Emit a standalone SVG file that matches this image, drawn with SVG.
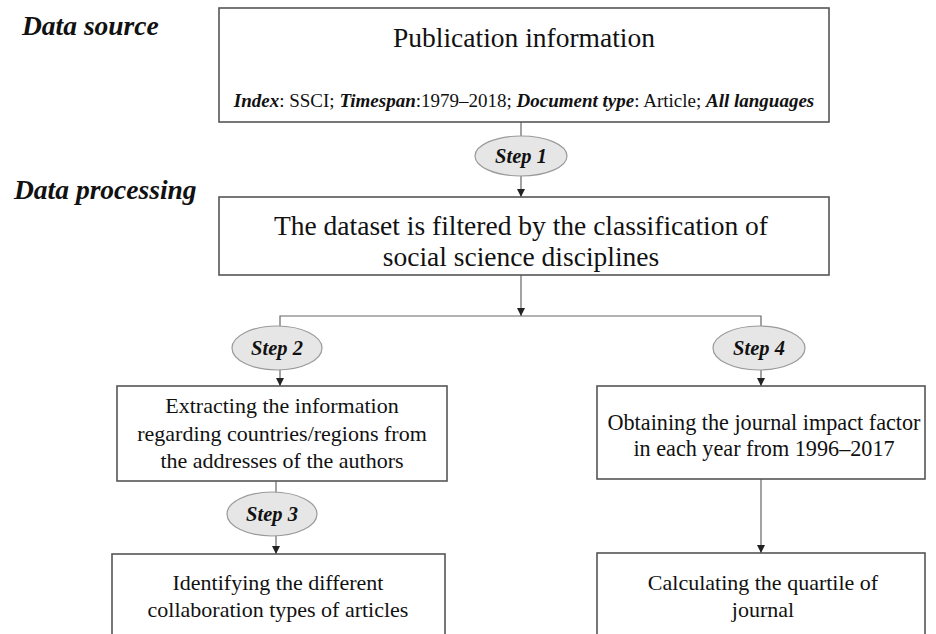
<svg xmlns="http://www.w3.org/2000/svg" width="936" height="634" viewBox="0 0 936 634">
<style>
.box{fill:#fff;stroke:#555;stroke-width:1.6}
.step{fill:#e6e6e6;stroke:#9a9a9a;stroke-width:1.2}
.t{font-family:"Liberation Serif","Times New Roman",serif;fill:#111;text-anchor:middle}
.bi{font-weight:bold;font-style:italic}
.st{font-family:"Liberation Serif","Times New Roman",serif;font-weight:bold;font-style:italic;font-size:20.5px;fill:#111;text-anchor:middle}
.hd{font-family:"Liberation Serif","Times New Roman",serif;font-weight:bold;font-style:italic;font-size:27.5px;fill:#111}
.c{fill:none;stroke:#666;stroke-width:1.2}
</style>
<defs>
<marker id="ah" markerWidth="8" markerHeight="8" refX="8" refY="4" orient="auto" markerUnits="userSpaceOnUse">
<path d="M0,0 L8,4 L0,8 z" fill="#222"/>
</marker>
</defs>
<rect width="936" height="634" fill="#fff"/>
<text class="hd" x="22" y="35">Data source</text>
<text class="hd" x="14" y="199">Data processing</text>
<g id="connectors">
<line class="c" x1="521" y1="122" x2="521" y2="136"/>
<line class="c" x1="521" y1="176" x2="521" y2="197" marker-end="url(#ah)"/>
<line class="c" x1="521" y1="275" x2="521" y2="316" marker-end="url(#ah)"/>
<polyline class="c" points="280,326 280,316 761,316 761,326"/>
<line class="c" x1="280" y1="370" x2="280" y2="386" marker-end="url(#ah)"/>
<line class="c" x1="761" y1="370" x2="761" y2="386" marker-end="url(#ah)"/>
<line class="c" x1="276" y1="481" x2="276" y2="493"/>
<line class="c" x1="276" y1="536" x2="276" y2="554" marker-end="url(#ah)"/>
<line class="c" x1="761" y1="479" x2="761" y2="553" marker-end="url(#ah)"/>
</g>
<g id="n-pub">
<rect class="box" x="219" y="8" width="610" height="114"/>
<text class="t" x="524" y="47" font-size="27.5">Publication information</text>
<text class="t" x="524" y="107" font-size="19"><tspan class="bi">Index</tspan>: SSCI; <tspan class="bi">Timespan</tspan>:1979–2018; <tspan class="bi">Document type</tspan>: Article; <tspan class="bi">All languages</tspan></text>
</g>
<g id="n-step1">
<ellipse class="step" cx="521" cy="156" rx="46" ry="20"/>
<text class="st" x="521" y="163">Step 1</text>
</g>
<g id="n-filter">
<rect class="box" x="219" y="197" width="610" height="78"/>
<text class="t" x="521" y="235" font-size="27.5">The dataset is filtered by the classification of</text>
<text class="t" x="521" y="266" font-size="27.5">social science disciplines</text>
</g>
<g id="n-step2">
<ellipse class="step" cx="277" cy="348" rx="45" ry="22"/>
<text class="st" x="277" y="355">Step 2</text>
</g>
<g id="n-step4">
<ellipse class="step" cx="759" cy="348" rx="46" ry="22"/>
<text class="st" x="759" y="355">Step 4</text>
</g>
<g id="n-extract">
<rect class="box" x="117" y="386" width="330" height="95"/>
<text class="t" x="282" y="413" font-size="22">Extracting the information</text>
<text class="t" x="282" y="441" font-size="22">regarding countries/regions from</text>
<text class="t" x="282" y="468" font-size="22">the addresses of the authors</text>
</g>
<g id="n-jif">
<rect class="box" x="597" y="386" width="328" height="93"/>
<text class="t" x="764" y="430" font-size="22.2">Obtaining the journal impact factor</text>
<text class="t" x="764" y="456" font-size="22.2">in each year from 1996–2017</text>
</g>
<g id="n-step3">
<ellipse class="step" cx="272" cy="514" rx="45" ry="22"/>
<text class="st" x="272" y="521">Step 3</text>
</g>
<g id="n-collab">
<rect class="box" x="112" y="554" width="333" height="100"/>
<text class="t" x="278" y="590" font-size="22">Identifying the different</text>
<text class="t" x="278" y="617" font-size="22">collaboration types of articles</text>
</g>
<g id="n-quartile">
<rect class="box" x="597" y="553" width="328" height="100"/>
<text class="t" x="763" y="590" font-size="22">Calculating the quartile of</text>
<text class="t" x="763" y="617" font-size="22">journal</text>
</g>
</svg>
